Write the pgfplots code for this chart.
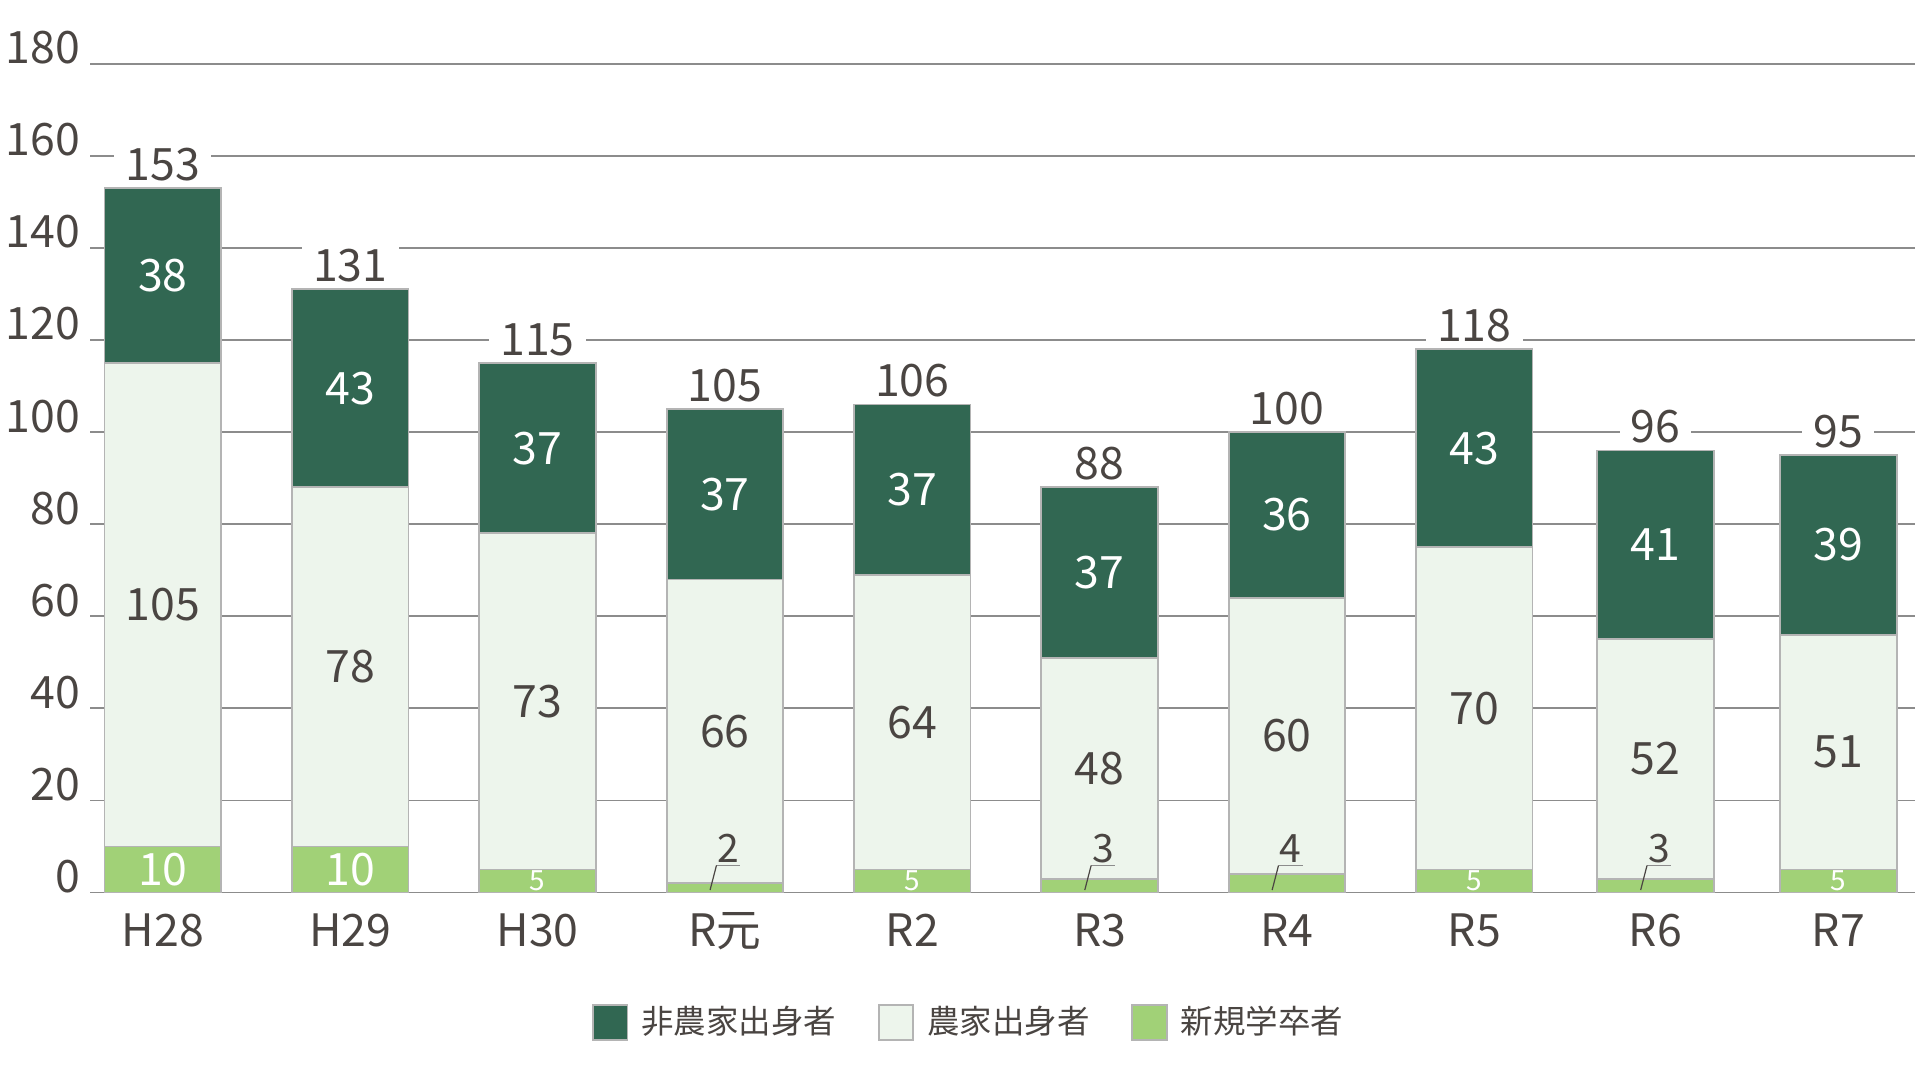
\documentclass[border=0pt]{standalone}
\usepackage{pgfplots}
\pgfplotsset{compat=1.18}
\usepackage{pgfplotstable}
\usepackage{fontspec}
\setmainfont{Noto Sans CJK JP}
\usetikzlibrary{calc}

\definecolor{dkg}{HTML}{316752}
\definecolor{ltg}{HTML}{EDF5EC}
\definecolor{grn}{HTML}{A1D177}
\definecolor{txt}{HTML}{4A4542}
\definecolor{gridc}{HTML}{8C8C8C}
\definecolor{edge}{HTML}{B4B4B4}

% new = 新規学卒者, farm = 農家出身者, non = 非農家出身者
% x: bar positions (the last two sit a little closer)
\pgfplotstableread{
x     new farm non total
0     10  105  38  153
1     10  78   43  131
2     5   73   37  115
3     2   66   37  105
4     5   64   37  106
5     3   48   37  88
6     4   60   36  100
7     5   70   43  118
7.967 3   52   41  96
8.943 5   51   39  95
}\data

\begin{document}
\begin{tikzpicture}[
  lbl/.style={font=\fontsize{11.2}{12}\selectfont, inner sep=0pt},
  sml/.style={font=\fontsize{7}{8}\selectfont, inner sep=0pt},
  mid/.style={font=\fontsize{9.8}{11}\selectfont, inner sep=0pt},
]
\begin{axis}[
  name=ax, set layers,
  scale only axis, width=456.2bp, height=207.2bp,
  xmin=-0.388, xmax=9.353, ymin=0, ymax=180,
  enlargelimits=false, clip=false,
  ybar stacked, bar width=0.622,
  xtick={0,1,2,3,4,5,6,7,7.967,8.943},
  xticklabels={H28,H29,H30,R元,R2,R3,R4,R5,R6,R7},
  ytick={0,20,...,180},
  ymajorgrids, grid style={draw=gridc, line width=0.45bp},
  axis line style={draw=none}, major tick length=0pt,
  tick label style={font=\fontsize{11.2}{12}\selectfont, text=txt},
  /pgf/number format/assume math mode=true,
  yticklabel style={anchor=base east, inner sep=0pt, xshift=-2.3bp},
  xticklabel style={anchor=base, inner sep=0pt, yshift=-13.5bp},
  legend style={draw=none, fill=none, at={(0.483,-0.1566)}, anchor=center,
    font=\fontsize{8.15}{9.6}\selectfont, text=txt, inner sep=0pt,
    /tikz/every even column/.append style={column sep=8.4bp}},
  legend columns=3, legend cell align=left, reverse legend,
  legend image code/.code={%
    \draw[#1] (0bp,-4.3bp) rectangle (8.6bp,4.3bp);
    \path (9.9bp,0bp);},
  every axis plot/.append style={on layer=pre main},
]
\addplot[fill=grn, draw=edge, line width=0.45bp] table[x=x, y=new] {\data};
\addlegendentry{新規学卒者}
\addplot[fill=ltg, draw=edge, line width=0.45bp] table[x=x, y=farm] {\data};
\addlegendentry{農家出身者}
\addplot[fill=dkg, draw=edge, line width=0.45bp] table[x=x, y=non] {\data};
\addlegendentry{非農家出身者}

\pgfplotsinvokeforeach{0,...,9}{
  \pgfplotstablegetelem{#1}{x}\of\data \let\vx\pgfplotsretval
  \pgfplotstablegetelem{#1}{new}\of\data \let\vn\pgfplotsretval
  \pgfplotstablegetelem{#1}{farm}\of\data \let\vf\pgfplotsretval
  \pgfplotstablegetelem{#1}{non}\of\data \let\vo\pgfplotsretval
  \pgfplotstablegetelem{#1}{total}\of\data \let\vt\pgfplotsretval
  \pgfmathsetmacro{\yf}{\vn+\vf/2}
  \pgfmathsetmacro{\yo}{\vn+\vf+\vo/2}
  \pgfmathsetmacro{\yn}{\vn/2}
  \edef\tmp{%
    \noexpand\node[lbl, text=white] at (axis cs:\vx,\yo) {\vo};
    \noexpand\node[lbl, text=txt] at (axis cs:\vx,\yf) {\vf};
    \noexpand\node[lbl, text=txt, anchor=base, fill=white,
      inner xsep=2.8bp, inner ysep=1bp, yshift=2bp] at (axis cs:\vx,\vt) {\vt};
  }\tmp
  \ifnum\vn>9
    \edef\tmp{\noexpand\node[lbl, text=white] at (axis cs:\vx,\yn) {\vn};}\tmp
  \else\ifnum\vn=5
    \edef\tmp{\noexpand\node[sml, text=white] at (axis cs:\vx,\yn) {\vn};}\tmp
  \else
    \pgfmathsetmacro{\xa}{\vx-0.079}
    \pgfmathsetmacro{\xb}{\vx-0.045}
    \pgfmathsetmacro{\xc}{\vx+0.083}
    \pgfmathsetmacro{\xl}{\vx+0.02}
    \edef\tmp{%
      \noexpand\draw[txt, line width=0.3bp] (axis cs:\xa,0.56) -- (axis cs:\xb,5.9);
      \noexpand\draw[gridc, line width=0.45bp] (axis cs:\xb,5.9) -- (axis cs:\xc,5.9);
      \noexpand\node[mid, text=txt, anchor=base] at (axis cs:\xl,6.6) {\vn};
    }\tmp
  \fi\fi
}
\end{axis}
\pgfresetboundingbox
\path ($(ax.south west)+(-22.53bp,-46.83bp)$) rectangle ($(ax.north east)+(1.22bp,15.92bp)$);
\end{tikzpicture}
\end{document}
